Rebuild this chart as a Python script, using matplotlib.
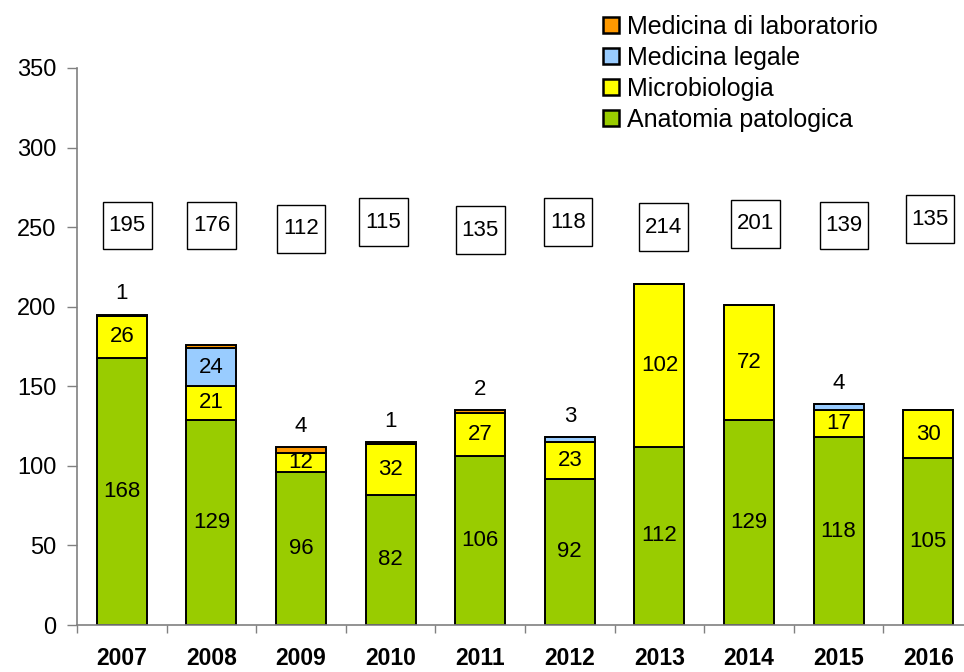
import numpy as np
import matplotlib
matplotlib.use("Agg")
import matplotlib.pyplot as plt
from matplotlib.patches import Rectangle

plt.rcParams['font.family'] = ['Liberation Sans', 'DejaVu Sans']

years = ['2007', '2008', '2009', '2010', '2011', '2012', '2013', '2014', '2015', '2016']
anatomia = [168, 129, 96, 82, 106, 92, 112, 129, 118, 105]
microbiologia = [26, 21, 12, 32, 27, 23, 102, 72, 17, 30]
legale = [0, 24, 0, 0, 0, 3, 0, 0, 4, 0]
laboratorio = [1, 2, 4, 1, 2, 0, 0, 0, 0, 0]
totals = [195, 176, 112, 115, 135, 118, 214, 201, 139, 135]

# small values written above the bar (year index -> text)
top_notes = {0: '1', 2: '4', 3: '1', 4: '2', 5: '3', 8: '4'}

# hand placed total boxes (shifts in x units, y in data units)
box_dx = [0.06, 0.0, 0.0, -0.08, 0.0, -0.02, 0.05, 0.07, 0.06, 0.02]
box_y = [251, 251, 249, 253, 248, 253, 250, 252, 251, 255]

series = [
    ('Anatomia patologica', anatomia, '#99CC00'),
    ('Microbiologia', microbiologia, '#FFFF00'),
    ('Medicina legale', legale, '#99CCFF'),
    ('Medicina di laboratorio', laboratorio, '#FF9900'),
]

fig = plt.figure(figsize=(9.64, 6.72), dpi=100)
ax = fig.add_axes([77 / 964, 1 - 625 / 672, 896 / 964, (625 - 68) / 672])

x = np.arange(len(years))
bottom = np.zeros(len(years))
handles = []
for name, vals, col in series:
    vals = np.array(vals, dtype=float)
    b = ax.bar(x, vals, 0.56, bottom=bottom, color=col, edgecolor='black',
               linewidth=1.4, label=name)
    handles.append(b)
    for i, v in enumerate(vals):
        if v >= 10:
            ax.text(x[i], bottom[i] + v / 2, str(int(v)), ha='center', va='center',
                    fontsize=16)
    bottom += vals

for i, t in top_notes.items():
    ax.text(x[i], bottom[i] + 13, t, ha='center', va='center', fontsize=16)

bw, bh = 0.545, 30
for i, t in enumerate(totals):
    cx = x[i] + box_dx[i]
    ax.add_patch(Rectangle((cx - bw / 2, box_y[i] - bh / 2), bw, bh, facecolor='white',
                           edgecolor='black', linewidth=1, zorder=3))
    ax.text(cx, box_y[i], str(t), ha='center', va='center', fontsize=16, zorder=4)

ax.set_xlim(-0.5, len(years) - 0.5)
ax.set_ylim(0, 350)
ax.set_yticks(np.arange(0, 351, 50))
ax.tick_params(axis='y', labelsize=17, direction='out', length=7, width=1,
               color='#808080', pad=8)
ax.set_xticks(np.arange(-0.5, len(years), 1.0))
ax.set_xticklabels([])
ax.set_xticks(x, minor=True)
ax.set_xticklabels(years, minor=True, fontsize=16.5, fontweight='bold')
ax.tick_params(axis='x', which='major', direction='out', length=6, width=1,
               color='#808080')
ax.tick_params(axis='x', which='minor', length=0, pad=16)
for s in ['top', 'right']:
    ax.spines[s].set_visible(False)
for s in ['left', 'bottom']:
    ax.spines[s].set_color('#808080')
    ax.spines[s].set_linewidth(1.2)

leg = fig.legend(handles[::-1], [s[0] for s in series][::-1], loc='upper left',
                 bbox_to_anchor=(593 / 964, 1 - 5 / 672), frameon=False, fontsize=18,
                 handlelength=0.62, handleheight=0.62, handletextpad=0.35,
                 labelspacing=0.28, borderaxespad=0)
for h in leg.legend_handles:
    h.set_linewidth(1.8)

fig.savefig('out.png', dpi=100)
